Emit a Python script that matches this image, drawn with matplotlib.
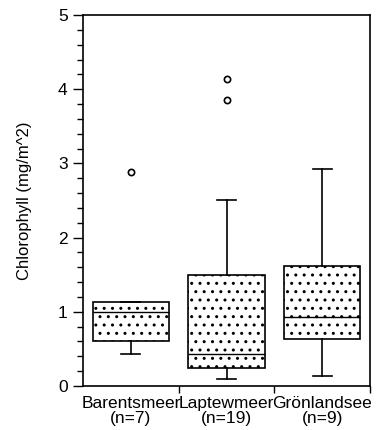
import matplotlib
matplotlib.use("Agg")
import matplotlib.pyplot as plt
from matplotlib.ticker import MultipleLocator

plt.rcParams['font.family'] = ['Liberation Sans', 'DejaVu Sans']
plt.rcParams['hatch.linewidth'] = 1.0

categories = ["Barentsmeer\n(n=7)", "Laptewmeer\n(n=19)", "Grönlandsee\n(n=9)"]
q1 = [0.61, 0.24, 0.64]
med = [1.00, 0.43, 0.93]
q3 = [1.13, 1.50, 1.62]
whislo = [0.43, 0.09, 0.13]
whishi = [1.13, 2.51, 2.92]
fliers = [[2.89], [3.85, 4.14], []]

stats = []
for i in range(3):
    stats.append(dict(q1=q1[i], med=med[i], q3=q3[i], whislo=whislo[i],
                      whishi=whishi[i], fliers=fliers[i], label=categories[i]))

fig = plt.figure(figsize=(3.85, 4.3), dpi=100)
ax = fig.add_axes([83/385, 44/430, 287/385, 371/430])

positions = [0.5, 1.5, 2.5]
bp = ax.bxp(stats, positions=positions, widths=0.8, patch_artist=True,
            capwidths=0.2, showfliers=True,
            boxprops=dict(facecolor='white', edgecolor='black', linewidth=1.2, hatch='..'),
            medianprops=dict(color='black', linewidth=1.0),
            whiskerprops=dict(color='black', linewidth=1.2),
            capprops=dict(color='black', linewidth=1.2),
            flierprops=dict(marker='o', markerfacecolor='white', markeredgecolor='black',
                            markersize=4.5, markeredgewidth=1.2))

ax.set_xlim(0, 3)
ax.set_ylim(0, 5)
ax.set_xticks(positions)
ax.set_xticklabels(categories, fontsize=12.5, linespacing=1.0)
ax.tick_params(axis='x', length=0, pad=7)
ax.set_xticks([1, 2, 3], minor=True)
ax.tick_params(axis='x', which='minor', length=5, direction='out', width=1)

ax.yaxis.set_major_locator(MultipleLocator(1))
ax.yaxis.set_minor_locator(MultipleLocator(0.2))
ax.tick_params(axis='y', which='major', length=7, width=1, labelsize=12.5, pad=4)
ax.tick_params(axis='y', which='minor', length=4, width=1)
ax.set_ylabel("Chlorophyll (mg/m^2)", fontsize=12, labelpad=19)

for s in ax.spines.values():
    s.set_linewidth(1.2)

fig.savefig("out.png", dpi=100)
